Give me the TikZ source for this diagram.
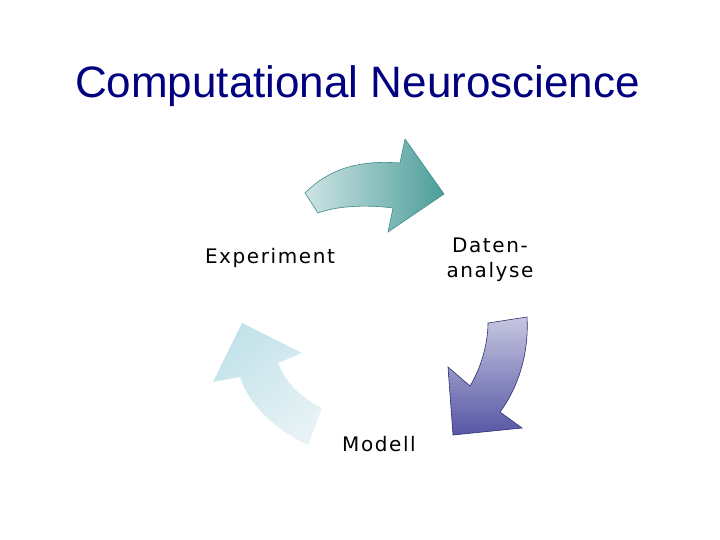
\documentclass[tikz,border=0pt]{standalone}
\usepackage{fontspec}
\setmainfont{DejaVu Sans}
\newfontfamily\titlefont{Liberation Sans}
\newfontfamily\lblfont[LetterSpace=8]{DejaVu Sans}
\usepackage{tikz}

\definecolor{titleblue}{RGB}{0,0,128}
\definecolor{tealdark}{RGB}{60,140,136}
\definecolor{teallight}{RGB}{206,228,228}
\definecolor{tealmid}{RGB}{76,158,154}
\definecolor{violetdark}{RGB}{46,46,110}
\definecolor{violetlight}{RGB}{198,198,224}
\definecolor{violetmid}{RGB}{86,86,166}
\definecolor{cyanlight}{RGB}{194,226,234}
\definecolor{cyanpale}{RGB}{230,242,245}

\begin{document}
\begin{tikzpicture}[x=1pt,y=-1pt]
      \useasboundingbox (0,0) rectangle (720,540);

      \node[anchor=base,text=titleblue,font=\titlefont\fontsize{44}{53}\selectfont] (0) at (357.5,98) {Computational Neuroscience};

      \node[anchor=base,font=\lblfont\fontsize{20}{25}\selectfont] (1) at (270,263) {Experiment};
      \node[anchor=north,inner sep=0pt,align=center,font=\lblfont\fontsize{20}{25}\selectfont] (2) at (490,238) {Daten-\\analyse};
      \node[anchor=base,font=\lblfont\fontsize{20}{25}\selectfont] (3) at (379,451) {Modell};

      % Experiment -> Datenanalyse
      \shadedraw[left color=teallight,right color=tealmid,draw=tealdark,line width=0.6pt]
        (305,193) .. controls (330,168) and (360,160) .. (400,163)
        -- (405,139) -- (444,194) -- (388,232) -- (393,208)
        .. controls (370,205) and (340,205) .. (318,213) -- cycle;

      % Datenanalyse -> Modell
      \shadedraw[top color=violetlight,bottom color=violetmid,draw=violetdark,line width=0.6pt]
        (488,323) -- (527,317) .. controls (529,350) and (520,385) .. (500,412)
        -- (522,428) -- (453,435) -- (448,367) -- (470,386)
        .. controls (480,370) and (488,345) .. (488,323) -- cycle;

      % Modell -> Experiment
      \shade[top color=cyanlight,bottom color=cyanpale,shading angle=40]
        (242,323) -- (302,353) -- (278,363) .. controls (286,385) and (305,400) .. (322,408)
        -- (308,445) .. controls (280,432) and (250,408) .. (240,377)
        -- (213,382) -- cycle;
    \end{tikzpicture}
\end{document}
